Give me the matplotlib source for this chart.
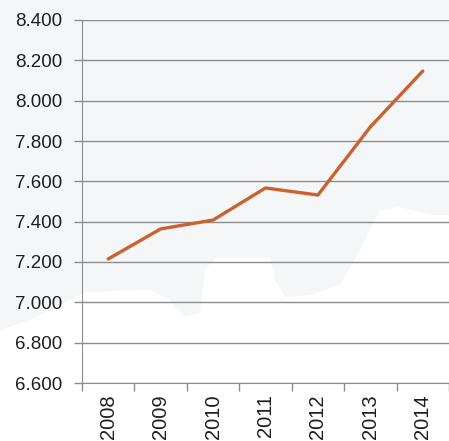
import matplotlib
matplotlib.use("Agg")
import matplotlib.pyplot as plt
from matplotlib.ticker import FuncFormatter, FixedLocator
from matplotlib.patches import Polygon

years = ["2008", "2009", "2010", "2011", "2012", "2013", "2014"]
values = [7.215, 7.364, 7.408, 7.567, 7.532, 7.870, 8.147]
y_ticks = [6.6, 6.8, 7.0, 7.2, 7.4, 7.6, 7.8, 8.0, 8.2, 8.4]

plt.rcParams['font.family'] = ['Liberation Sans', 'DejaVu Sans']

W, H = 449, 441
fig = plt.figure(figsize=(W / 100, H / 100), dpi=100, facecolor="#F4F6F8")

# decorative light background shape (white lower area), on a separate back axes
bg = fig.add_axes([0, 0, 1, 1], zorder=-1)
bg.set_xlim(0, W)
bg.set_ylim(H, 0)
bg.axis("off")
bg_px = [(0, 441), (0, 330), (30, 320), (60, 305), (85, 292), (150, 290), (170, 300),
         (185, 318), (200, 312), (205, 270), (215, 258), (270, 258), (275, 280),
         (285, 297), (310, 295), (340, 285), (360, 250), (380, 210), (400, 207),
         (430, 215), (449, 215), (449, 441)]
bg.add_patch(Polygon(bg_px, closed=True, facecolor="white", edgecolor="none"))

ax = fig.add_axes([82 / W, 1 - 383 / H, (W - 82) / W, (383 - 20) / H], zorder=1)
ax.set_facecolor("none")

x = list(range(len(years)))
ax.plot(x, values, color="#CC6130", lw=2.4, solid_capstyle="round", zorder=3)

ax.set_xlim(-0.5, len(years) - 0.5)
ax.set_ylim(6.6, 8.4)
ax.set_yticks(y_ticks)
ax.yaxis.set_major_formatter(FuncFormatter(lambda v, p: f"{v:.3f}"))
ax.grid(axis="y", color="#8C8C8C", lw=1.0)
ax.set_axisbelow(True)

ax.set_xticks(x)
ax.set_xticklabels(years, rotation=90, fontsize=14.5, color="#1E1E1E")
ax.tick_params(axis="x", which="major", length=0, pad=8)
ax.xaxis.set_minor_locator(FixedLocator([i - 0.5 for i in range(len(years) + 1)]))
ax.tick_params(axis="x", which="minor", length=6, color="#8C8C8C", width=1)
ax.tick_params(axis="y", length=6, color="#8C8C8C", width=1, labelsize=13.5,
               labelcolor="#1E1E1E", pad=8)

for s in ["top", "right"]:
    ax.spines[s].set_visible(False)
ax.spines["left"].set_color("#8C8C8C")
ax.spines["bottom"].set_color("#8C8C8C")

fig.savefig("out.png", dpi=100, facecolor=fig.get_facecolor())
